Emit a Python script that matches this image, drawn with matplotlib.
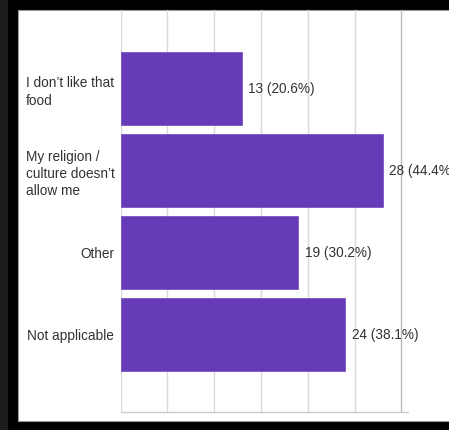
import matplotlib.pyplot as plt
from matplotlib.patches import Rectangle

reasons = ["I don\u2019t like that\nfood", "My religion /\nculture doesn\u2019t\nallow me",
           "Other", "Not applicable"]
counts = [13, 28, 19, 24]
percents = [20.6, 44.4, 30.2, 38.1]
grid_ticks = [0, 5, 10, 15, 20, 25, 30]

W, H = 449, 430
fig = plt.figure(figsize=(W / 100, H / 100), dpi=100, facecolor="black")

# white card inside the dark frame
fig.patches.append(Rectangle((0, 0), 8 / W, 1, transform=fig.transFigure,
                             facecolor="#1c1c1c", edgecolor="none", zorder=-2))
fig.patches.append(Rectangle((18 / W, 9 / H), 1, (H - 19) / H, transform=fig.transFigure,
                             facecolor="white", edgecolor="#9a9a9a", linewidth=0.8, zorder=-1))

ax = fig.add_axes([120.5 / W, (H - 411.7) / H, (408 - 120.5) / W, (411.7 - 10) / H])
ax.set_zorder(1)
ax.set_facecolor("none")

ypos = list(range(len(reasons)))
bars = ax.barh(ypos, counts, height=0.89, color="#673AB7", edgecolor="#7b55c4",
               linewidth=0.6, zorder=3)

for g in grid_ticks:
    ax.axvline(g, color="#bdbdbd" if g == grid_ticks[-1] else "#d9d9d9",
               linewidth=1.0, zorder=1)

for b, c, p in zip(bars, counts, percents):
    ax.annotate(f"{c} ({p}%)", xy=(b.get_width(), b.get_y() + b.get_height() / 2),
                xytext=(4.5, 0), textcoords="offset points", ha="left", va="center",
                fontsize=9.8, family="Liberation Sans", color="#333333",
                annotation_clip=False, zorder=4)

ax.set_xlim(0, 30.7)
ax.set_ylim(3.94, -0.96)
ax.set_yticks(ypos)
ax.set_yticklabels(reasons, fontsize=9.8, family="Liberation Sans", color="#333333",
                   multialignment="left", linespacing=1.3)
ax.tick_params(axis="y", length=0, pad=4.5)
ax.set_xticks([])
for side in ["top", "right", "left"]:
    ax.spines[side].set_visible(False)
ax.spines["bottom"].set_color("#cccccc")
ax.spines["bottom"].set_linewidth(1.0)

fig.savefig("out.png", dpi=100, facecolor=fig.get_facecolor())
